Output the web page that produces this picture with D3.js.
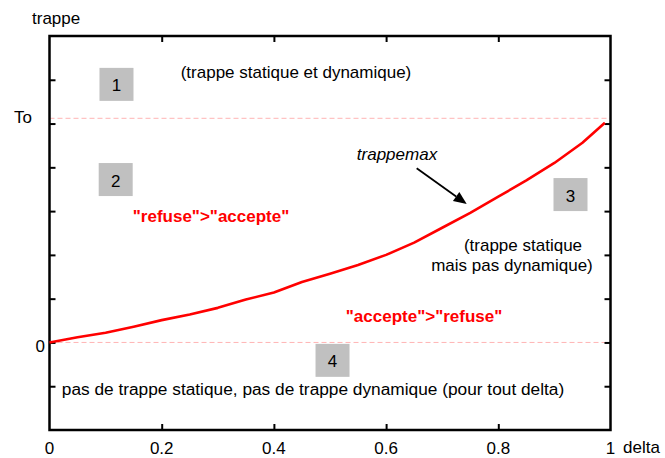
<!DOCTYPE html>
<html><head><meta charset="utf-8">
<script src="https://cdn.jsdelivr.net/npm/d3@7"></script>
<style>
body{margin:0;background:#fff}
text{font-family:"Liberation Sans",Arial,Helvetica,sans-serif;font-size:17px;fill:#000}
</style>
</head><body>
<svg id="chart" width="665" height="458"></svg>
<script>
// ---- data ----
const delta = [0, 0.05, 0.10, 0.15, 0.20, 0.25, 0.30, 0.35, 0.40, 0.45, 0.50, 0.55, 0.60, 0.65, 0.70, 0.75, 0.80, 0.85, 0.90, 0.95, 0.99];
const trappemax = [0, 0.12, 0.22, 0.36, 0.51, 0.64, 0.79, 0.98, 1.14, 1.38, 1.57, 1.77, 2.00, 2.28, 2.62, 2.96, 3.33, 3.70, 4.10, 4.56, 5.02];
const xTicks = [0, 0.2, 0.4, 0.6, 0.8, 1];
const xTickLabels = ["0", "0.2", "0.4", "0.6", "0.8", "1"];
const yTicks = [-1, 0, 1, 2, 3, 4, 5, 6];
const levelValues = [0, 5.12];
const levelLabels = ["0", "To"];
const regionLabels = ["1", "2", "3", "4"];

// ---- layout ----
const svg = d3.select("#chart");
const x = d3.scaleLinear().domain([0, 1]).range([49.5, 610.5]);
const y = d3.scaleLinear().domain([-2, 7]).range([430, 36]);

// reference levels (dashed)
svg.selectAll("line.level").data(levelValues).enter().append("line")
  .attr("x1", x(0)).attr("x2", x(1))
  .attr("y1", d => y(d)).attr("y2", d => y(d))
  .attr("stroke", "#ffb4b4").attr("stroke-width", 1).attr("stroke-dasharray", "5,3");

// ticks (inward, on all four sides)
const inner = xTicks.filter(d => d > 0 && d < 1);
svg.append("g").attr("transform", `translate(0,${y(-2)})`)
  .call(d3.axisBottom(x).tickValues(inner).tickSize(-6).tickFormat(""));
svg.append("g").attr("transform", `translate(0,${y(7)})`)
  .call(d3.axisTop(x).tickValues(inner).tickSize(-6).tickFormat(""));
svg.append("g").attr("transform", `translate(${x(0)},0)`)
  .call(d3.axisLeft(y).tickValues(yTicks).tickSize(-6).tickFormat(""));
svg.append("g").attr("transform", `translate(${x(1)},0)`)
  .call(d3.axisRight(y).tickValues(yTicks).tickSize(-6).tickFormat(""));
svg.selectAll(".domain").remove();
svg.selectAll(".tick line").attr("stroke", "#000").attr("stroke-width", 2);

// frame
svg.append("rect").attr("x", x(0)).attr("y", y(7))
  .attr("width", x(1) - x(0)).attr("height", y(-2) - y(7))
  .attr("fill", "none").attr("stroke", "#000").attr("stroke-width", 2.5);

// x tick labels
svg.selectAll("text.xl").data(xTicks).enter().append("text")
  .attr("x", d => x(d)).attr("y", 454).attr("text-anchor", "middle")
  .text((d, i) => xTickLabels[i]);
svg.append("text").attr("x", 623).attr("y", 453).text("delta");
svg.append("text").attr("x", 32).attr("y", 24).text("trappe");

// level labels
svg.selectAll("text.yl").data(levelValues).enter().append("text")
  .attr("x", (d, i) => i === 0 ? 45 : 32)
  .attr("y", (d, i) => y(d) + (i === 0 ? 9.5 : 5))
  .attr("text-anchor", "end")
  .text((d, i) => levelLabels[i]);

// curve
const pts = delta.map((d, i) => [d, trappemax[i]]);
svg.append("path").datum(pts)
  .attr("d", d3.line().x(d => x(d[0])).y(d => y(d[1])))
  .attr("fill", "none").attr("stroke", "#ff0000").attr("stroke-width", 2.6)
  .attr("stroke-linejoin", "round");

// region boxes
const boxPos = [[0.1194, 5.895], [0.118, 3.721], [0.9287, 3.378], [0.5045, -0.409]];
const bw = 34, bh = 33;
const boxes = svg.selectAll("g.box").data(regionLabels).enter().append("g")
  .attr("transform", (d, i) => `translate(${x(boxPos[i][0])},${y(boxPos[i][1])})`);
boxes.append("rect").attr("x", -bw / 2).attr("y", -bh / 2).attr("width", bw).attr("height", bh)
  .attr("fill", "#c0c0c0");
boxes.append("text").attr("text-anchor", "middle").attr("y", 7).text(d => d);

// annotations
const notes = [
  {t: "(trappe statique et dynamique)", p: [0.4394, 6.04]},
  {t: "\"refuse\">\"accepte\"", p: [0.2879, 2.75], c: "#ff0000", w: "bold"},
  {t: "trappemax", p: [0.6194, 4.168], s: "italic"},
  {t: "(trappe statique", p: [0.844, 2.088]},
  {t: "mais pas dynamique)", p: [0.8244, 1.631]},
  {t: "\"accepte\">\"refuse\"", p: [0.6676, 0.466], c: "#ff0000", w: "bold"},
  {t: "pas de trappe statique, pas de trappe dynamique (pour tout delta)", p: [0.4697, -1.2], f: "17.3px"}
];
svg.selectAll("text.note").data(notes).enter().append("text")
  .attr("x", d => x(d.p[0])).attr("y", d => y(d.p[1]))
  .attr("text-anchor", "middle")
  .style("fill", d => d.c || "#000")
  .style("font-weight", d => d.w || "normal")
  .style("font-style", d => d.s || "normal")
  .style("font-size", d => d.f || "17px")
  .text(d => d.t);

// arrow
const a0 = [0.6545, 3.977], a1 = [0.7437, 3.161];
const X0 = x(a0[0]), Y0 = y(a0[1]), X1 = x(a1[0]), Y1 = y(a1[1]);
const ang = Math.atan2(Y1 - Y0, X1 - X0), hl = 13, hw = 5.5;
const bx = X1 - hl * Math.cos(ang), by = Y1 - hl * Math.sin(ang);
svg.append("line").attr("x1", X0).attr("y1", Y0).attr("x2", bx).attr("y2", by)
  .attr("stroke", "#000").attr("stroke-width", 1.8);
svg.append("path")
  .attr("d", `M${X1},${Y1}L${bx + hw * Math.sin(ang)},${by - hw * Math.cos(ang)}L${bx - hw * Math.sin(ang)},${by + hw * Math.cos(ang)}Z`)
  .attr("fill", "#000");
</script>
</body></html>
